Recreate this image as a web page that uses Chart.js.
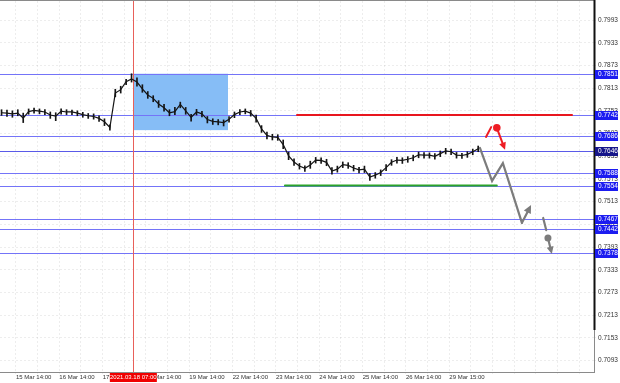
<!DOCTYPE html>
<html>
<head>
<meta charset="utf-8">
<script src="https://cdn.jsdelivr.net/npm/chart.js@4.4.1/dist/chart.umd.min.js"></script>
<style>
  html, body { margin: 0; padding: 0; background: #fff; }
  #wrap { width: 620px; height: 383px; }
</style>
</head>
<body>
<div id="wrap"><canvas id="chart" width="620" height="383"></canvas></div>
<script>
// x values are trading-day indexes: 0 = 12 Mar, 1 = 15 Mar ... 11 = 29 Mar
// (the fraction is the time of day)
const dayLabels = ['12 Mar 14:00', '15 Mar 14:00', '16 Mar 14:00', '17 Mar 14:00', '18 Mar 14:00',
    '19 Mar 14:00', '22 Mar 14:00', '23 Mar 14:00', '24 Mar 14:00', '25 Mar 14:00',
    '26 Mar 14:00', '29 Mar 15:00'];
const yTicks = [0.7093, 0.7153, 0.7213, 0.7273, 0.7333, 0.7393, 0.7453, 0.7513, 0.7573,
    0.7633, 0.7693, 0.7753, 0.7813, 0.7873, 0.7933, 0.7993];

// price, one sample every 3 hours from 15 Mar 06:00
const startT = 1.25;
const stepHours = 3;
const closes = [
    0.7748, 0.7747, 0.7745, 0.7747, 0.7734, 0.7751, 0.7754, 0.7752, 0.7750, 0.7742,
    0.7739, 0.7752, 0.7750, 0.7750, 0.7747, 0.7743, 0.7740, 0.7738, 0.7733, 0.7724,
    0.7709, 0.7800, 0.7809, 0.7830, 0.7837, 0.7829, 0.7811, 0.7795, 0.7786, 0.7771,
    0.7761, 0.7748, 0.7751, 0.7770, 0.7753, 0.7736, 0.7750, 0.7745, 0.7730, 0.7725,
    0.7724, 0.7722, 0.7731, 0.7743, 0.7750, 0.7752, 0.7747, 0.7733, 0.7705, 0.7688,
    0.7684, 0.7683, 0.7664, 0.7634, 0.7618, 0.7607, 0.7601, 0.7610, 0.7623, 0.7622,
    0.7617, 0.7594, 0.7599, 0.7611, 0.7609, 0.7602, 0.7597, 0.7599, 0.7578, 0.7583,
    0.7590, 0.7603, 0.7617, 0.7623, 0.7622, 0.7625, 0.7629, 0.7637, 0.7636, 0.7636,
    0.7633, 0.7640, 0.7647, 0.7645, 0.7636, 0.7635, 0.7638, 0.7645, 0.7653
];
const highs = [
    0.7756, 0.7755, 0.7753, 0.7756, 0.7747, 0.7758, 0.7760, 0.7758, 0.7756, 0.7750,
    0.7748, 0.7758, 0.7756, 0.7755, 0.7753, 0.7749, 0.7746, 0.7745, 0.7740, 0.7732,
    0.7716, 0.7810, 0.7818, 0.7836, 0.7851, 0.7840, 0.7822, 0.7804, 0.7793, 0.7780,
    0.7770, 0.7756, 0.7762, 0.7776, 0.7762, 0.7744, 0.7757, 0.7752, 0.7738, 0.7732,
    0.7730, 0.7729, 0.7738, 0.7750, 0.7756, 0.7758, 0.7754, 0.7742, 0.7714, 0.7697,
    0.7691, 0.7690, 0.7676, 0.7644, 0.7626, 0.7614, 0.7608, 0.7620, 0.7630, 0.7629,
    0.7625, 0.7603, 0.7607, 0.7618, 0.7616, 0.7609, 0.7604, 0.7607, 0.7587, 0.7590,
    0.7597, 0.7611, 0.7624, 0.7630, 0.7629, 0.7632, 0.7636, 0.7644, 0.7643, 0.7642,
    0.7640, 0.7647, 0.7654, 0.7652, 0.7643, 0.7641, 0.7645, 0.7652, 0.7660
];
const lows = [
    0.7741, 0.7738, 0.7736, 0.7740, 0.7722, 0.7744, 0.7747, 0.7745, 0.7743, 0.7733,
    0.7727, 0.7744, 0.7743, 0.7743, 0.7740, 0.7736, 0.7733, 0.7731, 0.7725, 0.7714,
    0.7702, 0.7790, 0.7800, 0.7822, 0.7829, 0.7818, 0.7802, 0.7786, 0.7777, 0.7762,
    0.7752, 0.7740, 0.7743, 0.7761, 0.7744, 0.7726, 0.7742, 0.7737, 0.7721, 0.7717,
    0.7716, 0.7713, 0.7723, 0.7735, 0.7743, 0.7745, 0.7739, 0.7723, 0.7696, 0.7679,
    0.7676, 0.7675, 0.7653, 0.7624, 0.7609, 0.7599, 0.7593, 0.7601, 0.7615, 0.7614,
    0.7608, 0.7586, 0.7591, 0.7603, 0.7601, 0.7594, 0.7589, 0.7590, 0.7569, 0.7575,
    0.7582, 0.7595, 0.7609, 0.7615, 0.7614, 0.7617, 0.7621, 0.7629, 0.7628, 0.7628,
    0.7625, 0.7632, 0.7639, 0.7637, 0.7628, 0.7627, 0.7630, 0.7637, 0.7645
];

// horizontal levels (labelled on the price axis)
const levels = [0.7851, 0.7742, 0.7686, 0.7646, 0.7588, 0.7554, 0.7467, 0.7442, 0.7378];
const darkLevels = [0.7646];

// drawn objects
const cursorT = 4 + 7 / 24;              // 2021.03.18 07:00
const cursorLabel = '2021.03.18 07:00';
const boxT = [4 + 7 / 24, 6.476];
const boxP = [0.7702, 0.7851];
const resistT = [8.068, 14.415];
const resistP = 0.7742;
const supportT = [7.79, 12.68];
const supportP = 0.7556;

// forecast paths
const grayPathT = [12.29, 12.57, 12.82, 13.26, 13.47];
const grayPathP = [0.7655, 0.7568, 0.7615, 0.7457, 0.7504];
const grayDashT = [13.75, 13.82];
const grayDashP = [0.7470, 0.7438];
const grayDot = [13.86, 0.7417];
const grayArrowEnd = [13.95, 0.7375];
const redDashT = [12.43, 12.55];
const redDashP = [0.7684, 0.7710];
const redDot = [12.68, 0.7708];
const redArrowEnd = [12.87, 0.7650];

const xMin = 1.2141, xMax = 14.923;
const yMin = 0.7063, yMax = 0.80432;

const times = closes.map((c, i) => startT + i * stepHours / 24);

// vertical grid every 12 hours (02:00 and 14:00)
const gridTimes = [];
for (let d = 0; d <= 15; d++) {
    [2 / 24, 14 / 24].forEach(h => {
        const v = d + h;
        if (v >= xMin && v <= xMax) gridTimes.push(v);
    });
}

const FONT = { family: 'Liberation Sans', size: 6.5 };

function arrow(ctx, x0, y0, x1, y1, size) {
    const ang = Math.atan2(y1 - y0, x1 - x0);
    ctx.beginPath();
    ctx.moveTo(x0, y0);
    ctx.lineTo(x1 - Math.cos(ang) * size * 0.6, y1 - Math.sin(ang) * size * 0.6);
    ctx.stroke();
    ctx.beginPath();
    ctx.moveTo(x1, y1);
    ctx.lineTo(x1 - size * Math.cos(ang - 0.45), y1 - size * Math.sin(ang - 0.45));
    ctx.lineTo(x1 - size * Math.cos(ang + 0.45), y1 - size * Math.sin(ang + 0.45));
    ctx.closePath();
    ctx.fill();
}

const overlay = {
    id: 'overlay',
    beforeDatasetsDraw(chart) {
        const { ctx, chartArea: a, scales: { x, y } } = chart;
        ctx.save();
        // blue zone
        const bx1 = x.getPixelForValue(boxT[0]), bx2 = x.getPixelForValue(boxT[1]);
        const by1 = y.getPixelForValue(boxP[1]), by2 = y.getPixelForValue(boxP[0]);
        ctx.fillStyle = '#86bdf6';
        ctx.fillRect(bx1, by1, bx2 - bx1, by2 - by1);

        // levels
        levels.forEach(lv => {
            const py = Math.round(y.getPixelForValue(lv)) + 0.5;
            ctx.strokeStyle = darkLevels.includes(lv) ? '#5a5ae8' : '#7474f8';
            ctx.lineWidth = 1;
            ctx.beginPath();
            ctx.moveTo(a.left, py);
            ctx.lineTo(a.right, py);
            ctx.stroke();
        });

        // cursor line
        const cx = Math.round(x.getPixelForValue(cursorT)) + 0.5;
        ctx.strokeStyle = '#e8605a';
        ctx.beginPath();
        ctx.moveTo(cx, a.top);
        ctx.lineTo(cx, a.bottom);
        ctx.stroke();
        ctx.restore();
    },
    afterDatasetsDraw(chart) {
        const { ctx, scales: { x, y } } = chart;
        ctx.save();
        ctx.lineCap = 'round';
        // resistance / support
        ctx.lineWidth = 2;
        ctx.strokeStyle = '#e8161e';
        ctx.beginPath();
        ctx.moveTo(x.getPixelForValue(resistT[0]), y.getPixelForValue(resistP));
        ctx.lineTo(x.getPixelForValue(resistT[1]), y.getPixelForValue(resistP));
        ctx.stroke();
        ctx.strokeStyle = '#2aa32a';
        ctx.beginPath();
        ctx.moveTo(x.getPixelForValue(supportT[0]), y.getPixelForValue(supportP));
        ctx.lineTo(x.getPixelForValue(supportT[1]), y.getPixelForValue(supportP));
        ctx.stroke();

        // gray forecast
        ctx.strokeStyle = '#7c7c7c';
        ctx.fillStyle = '#7c7c7c';
        ctx.lineWidth = 2.2;
        ctx.lineJoin = 'miter';
        ctx.beginPath();
        for (let i = 0; i < grayPathT.length - 1; i++) {
            const px = x.getPixelForValue(grayPathT[i]), py = y.getPixelForValue(grayPathP[i]);
            if (i === 0) ctx.moveTo(px, py); else ctx.lineTo(px, py);
        }
        ctx.stroke();
        const n = grayPathT.length;
        arrow(ctx, x.getPixelForValue(grayPathT[n - 2]), y.getPixelForValue(grayPathP[n - 2]),
            x.getPixelForValue(grayPathT[n - 1]), y.getPixelForValue(grayPathP[n - 1]), 9);
        ctx.beginPath();
        ctx.moveTo(x.getPixelForValue(grayDashT[0]), y.getPixelForValue(grayDashP[0]));
        ctx.lineTo(x.getPixelForValue(grayDashT[1]), y.getPixelForValue(grayDashP[1]));
        ctx.stroke();
        const gdx = x.getPixelForValue(grayDot[0]), gdy = y.getPixelForValue(grayDot[1]);
        ctx.beginPath();
        ctx.arc(gdx, gdy, 3.5, 0, Math.PI * 2);
        ctx.fill();
        arrow(ctx, gdx, gdy, x.getPixelForValue(grayArrowEnd[0]), y.getPixelForValue(grayArrowEnd[1]), 8);

        // red forecast
        ctx.strokeStyle = '#ee1c24';
        ctx.fillStyle = '#ee1c24';
        ctx.lineWidth = 2;
        ctx.beginPath();
        ctx.moveTo(x.getPixelForValue(redDashT[0]), y.getPixelForValue(redDashP[0]));
        ctx.lineTo(x.getPixelForValue(redDashT[1]), y.getPixelForValue(redDashP[1]));
        ctx.stroke();
        const rdx = x.getPixelForValue(redDot[0]), rdy = y.getPixelForValue(redDot[1]);
        ctx.beginPath();
        ctx.arc(rdx, rdy, 3.8, 0, Math.PI * 2);
        ctx.fill();
        arrow(ctx, rdx, rdy, x.getPixelForValue(redArrowEnd[0]), y.getPixelForValue(redArrowEnd[1]), 8);
        ctx.restore();
    },
    afterDraw(chart) {
        const { ctx, chartArea: a, scales: { x, y } } = chart;
        ctx.save();
        // frame
        ctx.strokeStyle = '#8a8a8a';
        ctx.lineWidth = 1;
        ctx.beginPath();
        ctx.moveTo(a.left, 0.5); ctx.lineTo(a.right, 0.5);
        ctx.moveTo(a.left, a.bottom + 0.5); ctx.lineTo(a.right + 1, a.bottom + 0.5);
        ctx.moveTo(a.right + 0.5, 0); ctx.lineTo(a.right + 0.5, a.bottom);
        ctx.stroke();
        ctx.strokeStyle = '#111';
        ctx.lineWidth = 2;
        ctx.beginPath();
        ctx.moveTo(a.right + 0.5, 0); ctx.lineTo(a.right + 0.5, 330);
        ctx.stroke();

        // level labels on the price axis
        ctx.font = '6.5px "Liberation Sans"';
        ctx.textBaseline = 'middle';
        ctx.textAlign = 'left';
        levels.forEach(lv => {
            const py = Math.round(y.getPixelForValue(lv));
            ctx.fillStyle = darkLevels.includes(lv) ? '#16168a' : '#1c1cf0';
            ctx.fillRect(a.right + 1, py - 4, 23, 9);
            ctx.fillStyle = '#fff';
            ctx.fillText(lv.toFixed(4), a.right + 4, py + 0.5);
        });

        // cursor time label
        const cx = x.getPixelForValue(cursorT);
        ctx.fillStyle = '#f00000';
        ctx.fillRect(cx - 23.5, a.bottom + 1, 47, 9);
        ctx.fillStyle = '#fff';
        ctx.textAlign = 'center';
        ctx.font = '6px "Liberation Sans"';
        ctx.fillText(cursorLabel, cx, a.bottom + 5.5);
        ctx.restore();
    }
};

new Chart(document.getElementById('chart'), {
    type: 'line',
    data: {
        datasets: [
            {
                type: 'line',
                data: closes.map((c, i) => ({ x: times[i], y: c })),
                borderColor: '#151515',
                borderWidth: 1.2,
                pointRadius: 0,
                tension: 0,
                order: 1
            },
            {
                type: 'bar',
                data: highs.map((h, i) => ({ x: times[i], y: [lows[i], h] })),
                backgroundColor: '#151515',
                barThickness: 1,
                order: 2
            }
        ]
    },
    options: {
        responsive: false,
        animation: false,
        layout: { padding: { top: 1, left: 0, right: 0, bottom: 0 } },
        plugins: {
            legend: { display: false },
            tooltip: { enabled: false }
        },
        scales: {
            x: {
                type: 'linear',
                offset: false,
                min: xMin,
                max: xMax,
                afterBuildTicks: (s) => { s.ticks = gridTimes.map(v => ({ value: v })); },
                afterFit: (s) => { s.height = 11; s.paddingLeft = 0; s.paddingRight = 0; },
                ticks: {
                    autoSkip: false,
                    maxRotation: 0,
                    align: 'start',
                    padding: 0,
                    font: { family: 'Liberation Sans', size: 6 },
                    color: '#333',
                    callback: (v) => {
                        const d = Math.round(v - 14 / 24);
                        if (Math.abs(v - (d + 14 / 24)) < 1e-6 && d >= 0 && d < dayLabels.length) return dayLabels[d];
                        return '';
                    }
                },
                grid: { color: 'rgba(0,0,0,0.07)', tickLength: 2, offset: false },
                border: { display: false, dash: [2, 2] }
            },
            y: {
                type: 'linear',
                position: 'right',
                min: yMin,
                max: yMax,
                afterBuildTicks: (s) => { s.ticks = yTicks.map(v => ({ value: v })); },
                afterFit: (s) => { s.width = 26; s.paddingTop = 0; s.paddingBottom = 0; },
                ticks: {
                    padding: 2,
                    font: FONT,
                    color: '#333',
                    callback: (v) => v.toFixed(4)
                },
                grid: { color: 'rgba(0,0,0,0.07)', tickLength: 2 },
                border: { display: false, dash: [2, 2] }
            }
        }
    },
    plugins: [overlay]
});
</script>
</body>
</html>
